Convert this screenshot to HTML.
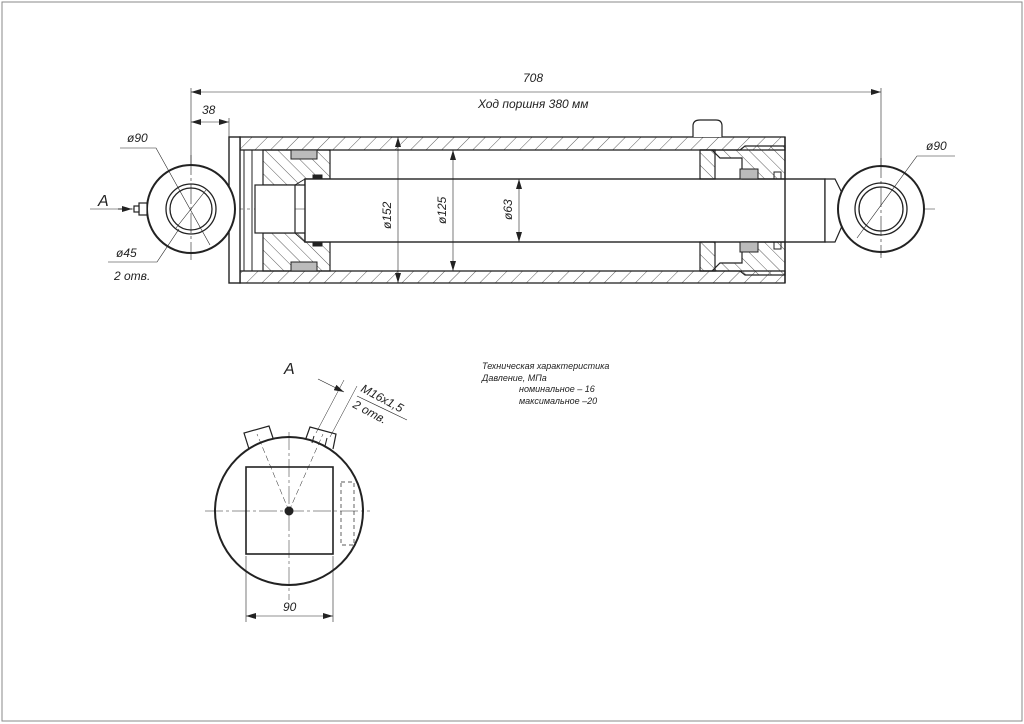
<!DOCTYPE html>
<html><head><meta charset="utf-8"><style>
html,body{margin:0;padding:0;background:#fff}
svg{display:block}
text{font-family:"Liberation Sans",sans-serif;font-style:italic;fill:#222}
</style></head><body>
<svg width="1024" height="724" viewBox="0 0 1024 724" xmlns="http://www.w3.org/2000/svg">
<defs>
<pattern id="h" width="11" height="11" patternUnits="userSpaceOnUse" patternTransform="rotate(45)">
<line x1="0" y1="0" x2="0" y2="11" stroke="#333" stroke-width="0.8"/></pattern>
<pattern id="h2" width="9" height="9" patternUnits="userSpaceOnUse" patternTransform="rotate(-45)">
<line x1="0" y1="0" x2="0" y2="9" stroke="#333" stroke-width="0.8"/></pattern>
<marker id="a" viewBox="0 0 10 6" refX="10" refY="3" markerWidth="10" markerHeight="6" orient="auto-start-reverse" markerUnits="userSpaceOnUse"><path d="M0,0 L10,3 L0,6z" fill="#222"/></marker>
</defs>
<rect x="2" y="2" width="1020" height="719" fill="none" stroke="#888" stroke-width="1"/>

<g stroke="#222" fill="none">
<line x1="191" y1="88" x2="191" y2="250" stroke-width="0.6"/>
<line x1="881" y1="88" x2="881" y2="255" stroke-width="0.6"/>
<line x1="191" y1="92" x2="881" y2="92" stroke-width="0.6" marker-start="url(#a)" marker-end="url(#a)"/>
<line x1="229" y1="118" x2="229" y2="137" stroke-width="0.6"/>
<line x1="191" y1="122" x2="229" y2="122" stroke-width="0.6" marker-start="url(#a)" marker-end="url(#a)"/>

<line x1="90" y1="209" x2="935" y2="209" stroke-width="0.6" stroke-dasharray="30 4 3 4"/>

<rect x="240" y="137" width="545" height="13" fill="url(#h)" stroke-width="1.3"/>
<rect x="240" y="271" width="545" height="12" fill="url(#h)" stroke-width="1.3"/>
<rect x="229" y="137" width="11" height="146" fill="#fff" stroke-width="1.4"/>
<line x1="244" y1="150" x2="244" y2="271" stroke-width="1"/>
<line x1="252" y1="150" x2="252" y2="271" stroke-width="1"/>
<path d="M263 150 H330 V179 H305 V185 H263 Z" fill="url(#h2)" stroke-width="1.2"/>
<path d="M263 271 H330 V242 H305 V233 H263 Z" fill="url(#h2)" stroke-width="1.2"/>
<rect x="255" y="185" width="40" height="48" fill="#fff" stroke-width="1.2"/>
<line x1="295" y1="185" x2="305" y2="179" stroke-width="1"/>
<line x1="295" y1="233" x2="305" y2="242" stroke-width="1"/>
<rect x="291" y="150" width="26" height="9" fill="#bbb" stroke-width="1"/>
<rect x="291" y="262" width="26" height="9" fill="#bbb" stroke-width="1"/>
<rect x="313" y="175" width="9" height="4" fill="#222"/>
<rect x="313" y="242" width="9" height="4" fill="#222"/>
<rect x="305" y="179" width="520" height="63" fill="#fff" stroke-width="1.4"/>
<path d="M825 179 L835 179 L842 193 L842 226 L835 242 L825 242 Z" fill="#fff" stroke-width="1.2"/>
<path d="M700 150 H740 L745 146 H785 V179 H742 V158 H720 L712 150 Z" fill="url(#h2)" stroke-width="1.2"/>
<path d="M700 150 H715 V179 H700 Z" fill="url(#h2)" stroke-width="1.2"/>
<path d="M700 271 H740 L745 275 H785 V242 H742 V263 H720 L712 271 Z" fill="url(#h2)" stroke-width="1.2"/>
<path d="M700 271 H715 V242 H700 Z" fill="url(#h2)" stroke-width="1.2"/>
<rect x="740" y="169" width="18" height="10" fill="#bbb" stroke-width="1"/>
<rect x="740" y="242" width="18" height="10" fill="#bbb" stroke-width="1"/>
<rect x="774" y="172" width="7" height="7" stroke-width="1"/>
<rect x="774" y="242" width="7" height="7" stroke-width="1"/>
<path d="M785 137 V283" stroke-width="1.4"/>
<path d="M693 137 V126 Q693 120 700 120 H716 Q722 120 722 126 V137" fill="#fff" stroke-width="1.2"/>

<circle cx="191" cy="209" r="44" fill="#fff" stroke-width="2"/>
<circle cx="191" cy="209" r="25" stroke-width="1.3"/>
<circle cx="191" cy="209" r="21" stroke-width="1.3"/>
<line x1="191" y1="155" x2="191" y2="260" stroke-width="0.6" stroke-dasharray="20 3 3 3"/>
<rect x="139" y="203" width="8" height="12" fill="#fff" stroke-width="1.2"/>
<rect x="134" y="206" width="5" height="6" fill="#fff" stroke-width="1.2"/>
<line x1="118" y1="209" x2="132" y2="209" stroke-width="1" marker-end="url(#a)"/>
<polyline points="120,148 156,148 210,245" stroke-width="0.6"/>
<line x1="176" y1="228" x2="206" y2="190" stroke-width="0.6"/>
<polyline points="108,262 157,262 179,229" stroke-width="0.6"/>

<circle cx="881" cy="209" r="43" fill="#fff" stroke-width="2"/>
<circle cx="881" cy="209" r="26" stroke-width="1.3"/>
<circle cx="881" cy="209" r="22" stroke-width="1.3"/>
<line x1="881" y1="158" x2="881" y2="258" stroke-width="0.6" stroke-dasharray="20 3 3 3"/>
<polyline points="955,156 917,156 857,238" stroke-width="0.6"/>

<line x1="398" y1="137" x2="398" y2="283" stroke-width="0.6" marker-start="url(#a)" marker-end="url(#a)"/>
<line x1="453" y1="150" x2="453" y2="271" stroke-width="0.6" marker-start="url(#a)" marker-end="url(#a)"/>
<line x1="519" y1="179" x2="519" y2="242" stroke-width="0.6" marker-start="url(#a)" marker-end="url(#a)"/>

<!-- View A -->
<path d="M249 449 L244 433 L269 426 L274 441" fill="#fff" stroke-width="1.2"/>
<path d="M305 441 L310 427 L336 434 L333 449" fill="#fff" stroke-width="1.2"/>
<circle cx="289" cy="511" r="74" fill="#fff" stroke-width="2"/>
<rect x="246" y="467" width="87" height="87" stroke-width="1.6"/>
<rect x="341" y="482" width="13" height="63" stroke-width="0.7" stroke-dasharray="4 3"/>
<line x1="205" y1="511" x2="370" y2="511" stroke-width="0.5" stroke-dasharray="18 3 3 3"/>
<line x1="289" y1="432" x2="289" y2="600" stroke-width="0.5" stroke-dasharray="18 3 3 3"/>
<circle cx="289" cy="511" r="4" fill="#222"/>
<line x1="289" y1="511" x2="257" y2="434" stroke-width="0.5" stroke-dasharray="6 3"/>
<line x1="289" y1="511" x2="323" y2="434" stroke-width="0.5" stroke-dasharray="6 3"/>
<line x1="314" y1="436" x2="312" y2="443" stroke-width="1"/>
<line x1="327" y1="438" x2="325" y2="446" stroke-width="1"/>
<line x1="316" y1="433" x2="344" y2="380" stroke-width="0.5"/>
<line x1="330" y1="437" x2="357" y2="386" stroke-width="0.5"/>
<line x1="318" y1="379" x2="344" y2="392" stroke-width="0.6" marker-end="url(#a)"/>
<line x1="357" y1="396" x2="407" y2="420" stroke-width="0.6"/>
<line x1="246" y1="556" x2="246" y2="622" stroke-width="0.6"/>
<line x1="333" y1="556" x2="333" y2="622" stroke-width="0.6"/>
<line x1="246" y1="616" x2="333" y2="616" stroke-width="0.6" marker-start="url(#a)" marker-end="url(#a)"/>
</g>

<g font-size="12">
<text x="523" y="82">708</text>
<text x="478" y="108">Ход поршня 380 мм</text>
<text x="202" y="114">38</text>
<text x="127" y="142">ø90</text>
<text x="926" y="150">ø90</text>
<text x="116" y="257">ø45</text>
<text x="114" y="280">2 отв.</text>
<text x="98" y="206" font-style="normal" font-size="16">A</text>
<text x="284" y="374" font-style="normal" font-size="16">A</text>
<text x="283" y="611">90</text>
<text transform="translate(391,229) rotate(-90)">ø152</text>
<text transform="translate(446,224) rotate(-90)">ø125</text>
<text transform="translate(512,220) rotate(-90)">ø63</text>
<text transform="translate(360,391) rotate(28)">M16x1,5</text>
<text transform="translate(352,407) rotate(28)">2 отв.</text>
</g>
<g font-size="9">
<text x="482" y="369">Техническая характеристика</text>
<text x="482" y="381">Давление, МПа</text>
<text x="519" y="392">номинальное – 16</text>
<text x="519" y="404">максимальное –20</text>
</g>
</svg>
</body></html>
